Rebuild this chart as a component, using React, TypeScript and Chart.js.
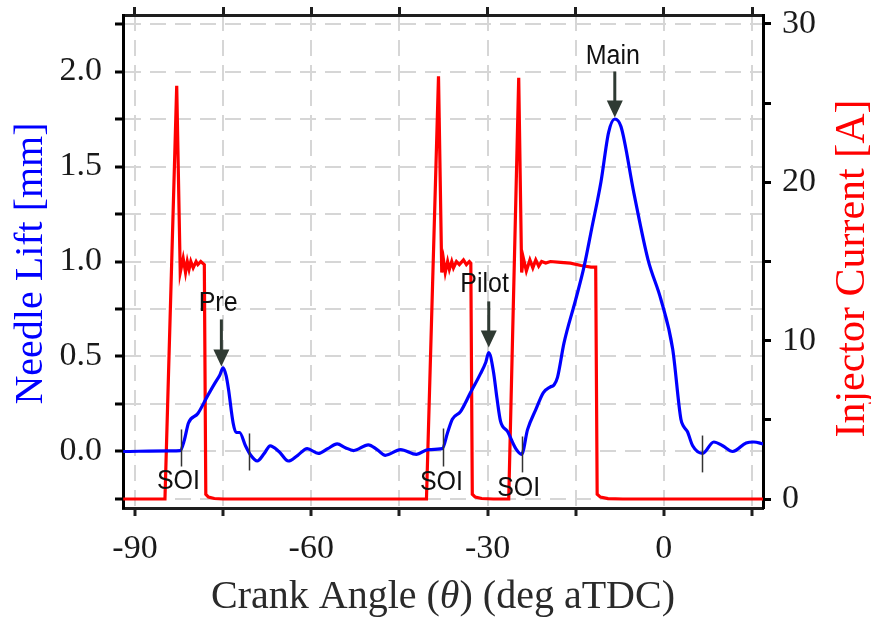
import React, { useEffect, useRef } from 'react';
import { Chart, registerables } from 'chart.js';

Chart.register(...registerables);

// ---- Needle lift (blue, left axis) ----
const liftAngles = [
  -92, -84, -82.3, -81.6, -80.9, -79.3, -77.7, -76.4, -75.6, -75.0, -74.5, -74.1, -73.3, -72.8, -72.2,
  -71.2, -70.3, -69.2, -68.0, -67.0, -65.5, -63.9, -62.3, -60.7, -58.8, -57.2, -55.6, -54.2, -52.8,
  -50.3, -48.8, -47.4, -44.8, -42.1, -40.1, -37.7, -36.8, -36.0, -34.6, -32.9, -31.2, -30.3, -29.8,
  -29.0, -28.4, -27.8, -26.6, -25.2, -24.2, -23.2, -21.8, -20.5, -19.3, -18.7, -18.1, -17.0, -15.0,
  -13.6, -12.3, -10.7, -9.4, -8.35, -7.3, -5.1, -2.7, -0.5, 1.5, 2.9, 3.4, 4.0, 4.9, 6.6, 8.5, 10.0,
  11.7, 14.0, 15.3, 16.9,
];
const liftValues = [
  0.0, 0.003, 0.005, 0.06, 0.15, 0.2, 0.29, 0.36, 0.4, 0.44, 0.4, 0.33, 0.15, 0.1, 0.1,
  0.03, -0.02, -0.05, -0.01, 0.03, 0.0, -0.05, -0.02, 0.015, -0.01, 0.015, 0.04, 0.02, 0.005,
  0.035, 0.01, -0.02, 0.01, -0.015, 0.01, 0.015, 0.1, 0.17, 0.21, 0.31, 0.41, 0.47, 0.52,
  0.42, 0.28, 0.16, 0.105, 0.015, -0.015, 0.115, 0.22, 0.31, 0.34, 0.35, 0.39, 0.57, 0.8,
  0.97, 1.17, 1.42, 1.68, 1.75, 1.71, 1.36, 1.01, 0.8, 0.54, 0.17, 0.13, 0.105, 0.03, -0.01, 0.05, 0.03,
  0.0, 0.045, 0.05, 0.04,
];

// ---- Injector current (red, right axis) ----
const currentAngles = [
  -92, -84.9, -82.9, -82.3, -81.8, -81.4, -81.1, -80.8, -80.5, -80.1, -79.6, -79.3, -78.8, -78.5, -78.2,
  -77.95, -77.5, -76.5, -75,
  -40.4, -38.35, -37.8, -37.5, -37.2, -36.8, -36.5, -36.1, -35.8, -35.3, -34.8, -34.1, -33.6, -33.1, -32.85,
  -32.6, -32.1, -31, -29,
  -26.4, -24.7, -24.2, -23.9, -23.4, -22.8, -22.3, -21.8, -21.3, -20.8, -20.1, -19.3, -17.6, -15.9, -14.1,
  -12.4, -11.6, -11.35, -10.8, -9.5, -7, 16.9,
];
const currentValues = [
  0, 0, 26.1, 14.3, 15.2, 14.3, 15.0, 14.5, 15.0, 14.6, 15.0, 14.8, 15.0, 14.9, 14.8,
  0.3, 0.12, 0.03, 0,
  0, 26.7, 14.3, 15.1, 14.3, 15.0, 14.5, 15.0, 14.6, 15.0, 14.8, 15.1, 14.8, 15.0, 14.9,
  0.3, 0.12, 0.03, 0,
  0, 26.6, 14.3, 15.2, 14.4, 15.1, 14.6, 15.1, 14.7, 15.0, 14.9, 15.0, 14.95, 14.9, 14.75,
  14.65, 14.65, 0.3, 0.12, 0.03, 0, 0,
];

// ---- Axis ranges / ticks ----
const xMin = -92.04;
const xMax = 16.87;
const xStep = 15;
const xLabelEvery = 30;
const liftMin = -0.2974;
const liftMax = 2.2974;
const liftStep = 0.25;
const currentMin = -0.568;
const currentMax = 30.568;
const currentStep = 5;
const currentLabelEvery = 10;

// ---- Annotations ----
const calloutLabels = ['Pre', 'Pilot', 'Main'];
const calloutAngles = [-75.3, -29.8, -8.35];
const calloutTips = [0.447, 0.547, 1.758];
const calloutTails = [0.695, 0.79, 2.0];
const calloutTextAngles = [-75.85, -30.5, -8.7];
const calloutTextLifts = [0.737, 0.837, 2.037];

const soiAngles = [-82.2, -70.6, -37.5, -24.2, 6.5];
const soiTops = [0.116, 0.095, 0.121, 0.079, 0.084];
const soiBottoms = [-0.079, -0.1, -0.079, -0.11, -0.11];
const soiLabelAngles = [-82.6, -37.85, -24.7];
const soiLabelLifts = [-0.2, -0.205, -0.232];

const SERIF = '"Liberation Serif", "Times New Roman", serif';
const SANS = '"Liberation Sans", Arial, sans-serif';
const GRID = '#d6d6d6';
const AXIS = '#1e1e1e';

function drawStretchedText(ctx: CanvasRenderingContext2D, text: string, x: number, y: number) {
  ctx.save();
  ctx.translate(x, y);
  ctx.scale(1, 1.1);
  ctx.fillText(text, 0, 0);
  ctx.restore();
}

function noPad(s: any) {
  s.paddingTop = 0;
  s.paddingBottom = 0;
  s.paddingLeft = 0;
  s.paddingRight = 0;
}

const overlayPlugin = {
  id: 'overlay',
  afterDatasetsDraw(chart: any) {
    const ctx: CanvasRenderingContext2D = chart.ctx;
    const xs = chart.scales.x;
    const ys = chart.scales.y;
    ctx.save();
    // SOI markers
    ctx.strokeStyle = '#333333';
    ctx.lineWidth = 1.5;
    soiAngles.forEach((a, i) => {
      const px = Math.round(xs.getPixelForValue(a)) + 0.5;
      ctx.beginPath();
      ctx.moveTo(px, ys.getPixelForValue(soiTops[i]));
      ctx.lineTo(px, ys.getPixelForValue(soiBottoms[i]));
      ctx.stroke();
    });
    // arrows
    const arrowColor = '#2f3a33';
    ctx.strokeStyle = arrowColor;
    ctx.fillStyle = arrowColor;
    calloutAngles.forEach((a, i) => {
      const px = xs.getPixelForValue(a);
      const tip = ys.getPixelForValue(calloutTips[i]);
      const tail = ys.getPixelForValue(calloutTails[i]);
      const head = 17;
      ctx.lineWidth = 3;
      ctx.beginPath();
      ctx.moveTo(px, tail);
      ctx.lineTo(px, tip - head + 2);
      ctx.stroke();
      ctx.beginPath();
      ctx.moveTo(px - 8, tip - head);
      ctx.lineTo(px + 8, tip - head);
      ctx.lineTo(px, tip);
      ctx.closePath();
      ctx.fill();
    });
    // labels
    ctx.fillStyle = '#111111';
    ctx.font = `25px ${SANS}`;
    ctx.textAlign = 'center';
    ctx.textBaseline = 'alphabetic';
    calloutLabels.forEach((t, i) => {
      drawStretchedText(ctx, t, xs.getPixelForValue(calloutTextAngles[i]), ys.getPixelForValue(calloutTextLifts[i]));
    });
    soiLabelAngles.forEach((a, i) => {
      drawStretchedText(ctx, 'SOI', xs.getPixelForValue(a), ys.getPixelForValue(soiLabelLifts[i]));
    });
    ctx.restore();
  },
  afterDraw(chart: any) {
    const ctx: CanvasRenderingContext2D = chart.ctx;
    const area = chart.chartArea;
    ctx.save();
    ctx.textBaseline = 'alphabetic';
    // x title with italic theta
    const parts = [
      { t: 'Crank Angle (', f: `40px ${SERIF}` },
      { t: 'θ', f: `italic 40px ${SERIF}` },
      { t: ') (deg aTDC)', f: `40px ${SERIF}` },
    ];
    let total = 0;
    const widths = parts.map((p) => {
      ctx.font = p.f;
      const w = ctx.measureText(p.t).width;
      total += w;
      return w;
    });
    let cx = (area.left + area.right) / 2 - total / 2;
    ctx.fillStyle = '#2a2a2a';
    ctx.textAlign = 'left';
    parts.forEach((p, i) => {
      ctx.font = p.f;
      ctx.fillText(p.t, cx, 608);
      cx += widths[i];
    });
    // left title
    ctx.textAlign = 'center';
    ctx.font = `40px ${SERIF}`;
    ctx.fillStyle = '#0000ff';
    ctx.save();
    ctx.translate(42, 263.5);
    ctx.rotate(-Math.PI / 2);
    ctx.fillText('Needle Lift [mm]', 0, 0);
    ctx.restore();
    // right title
    ctx.font = `42px ${SERIF}`;
    ctx.fillStyle = '#ff0000';
    ctx.save();
    ctx.translate(864, 268.5);
    ctx.rotate(-Math.PI / 2);
    ctx.fillText('Injector Current [A]', 0, 0);
    ctx.restore();
    ctx.restore();
  },
};

export default function App() {
  const ref = useRef<HTMLCanvasElement | null>(null);

  useEffect(() => {
    if (!ref.current) return;
    const liftData = liftAngles.map((x, i) => ({ x, y: liftValues[i] }));
    const currentData = currentAngles.map((x, i) => ({ x, y: currentValues[i] }));
    const tickFont = { family: SERIF, size: 34 };

    const chart = new Chart(ref.current, {
      type: 'line',
      data: {
        datasets: [
          {
            label: 'Needle Lift',
            data: liftData,
            yAxisID: 'y',
            borderColor: '#0000ff',
            borderWidth: 3.2,
            pointRadius: 0,
            cubicInterpolationMode: 'monotone',
            fill: false,
          },
          {
            label: 'Injector Current',
            data: currentData,
            yAxisID: 'y1',
            borderColor: '#ff0000',
            borderWidth: 3.2,
            pointRadius: 0,
            tension: 0,
            fill: false,
          },
        ],
      },
      options: {
        animation: false,
        responsive: false,
        devicePixelRatio: 1,
        layout: { padding: 0 },
        plugins: { legend: { display: false }, tooltip: { enabled: false }, title: { display: false } },
        scales: {
          x: {
            type: 'linear',
            position: 'bottom',
            min: xMin,
            max: xMax,
            ticks: {
              stepSize: xStep,
              includeBounds: false,
              autoSkip: false,
              maxRotation: 0,
              padding: 13,
              color: '#1a1a1a',
              font: tickFont,
              callback: (v: any) => {
                const r = Math.round(Number(v));
                return r % xLabelEvery === 0 ? String(r) : '';
              },
            },
            grid: { color: GRID, lineWidth: 2, tickColor: AXIS, tickWidth: 3, tickLength: 8 },
            border: { display: true, color: AXIS, width: 3, dash: [16, 9] },
            afterFit: (s: any) => {
              s.height = 111;
              noPad(s);
            },
          },
          x2: {
            type: 'linear',
            position: 'top',
            min: xMin,
            max: xMax,
            ticks: { stepSize: xStep, includeBounds: false, display: false },
            grid: { drawOnChartArea: false, tickColor: AXIS, tickWidth: 3, tickLength: 8 },
            border: { display: true, color: AXIS, width: 3 },
            afterFit: (s: any) => {
              s.height = 15;
              noPad(s);
            },
          },
          y: {
            type: 'linear',
            position: 'left',
            min: liftMin,
            max: liftMax,
            ticks: {
              stepSize: liftStep,
              includeBounds: false,
              autoSkip: false,
              padding: 13,
              color: '#1a1a1a',
              font: tickFont,
              callback: (v: any) => {
                const r = Math.round(Number(v) * 4) / 4;
                return Math.abs(r * 2 - Math.round(r * 2)) < 1e-6 ? r.toFixed(1) : '';
              },
            },
            grid: { color: GRID, lineWidth: 2, tickColor: '#000', tickWidth: 3, tickLength: 8 },
            border: { display: true, color: '#000', width: 3, dash: [16, 9] },
            afterFit: (s: any) => {
              s.width = 123;
              noPad(s);
            },
          },
          y1: {
            type: 'linear',
            position: 'right',
            min: currentMin,
            max: currentMax,
            ticks: {
              stepSize: currentStep,
              includeBounds: false,
              autoSkip: false,
              padding: 11,
              color: '#1a1a1a',
              font: tickFont,
              callback: (v: any) => {
                const r = Math.round(Number(v));
                return r % currentLabelEvery === 0 ? String(r) : '';
              },
            },
            grid: { drawOnChartArea: false, tickColor: '#000', tickWidth: 3, tickLength: 8 },
            border: { display: true, color: '#000', width: 3 },
            afterFit: (s: any) => {
              s.width = 108;
              noPad(s);
            },
          },
        },
      } as any,
      plugins: [overlayPlugin],
    });
    return () => chart.destroy();
  }, []);

  return (
    <div style={{ position: 'fixed', left: 0, top: 0, width: 871, height: 619, background: '#fff' }}>
      <canvas ref={ref} width={871} height={619} style={{ display: 'block' }} />
    </div>
  );
}
